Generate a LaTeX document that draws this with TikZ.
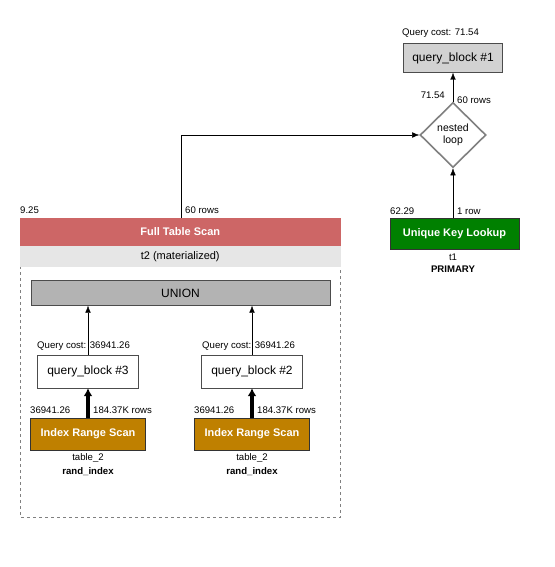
\documentclass[tikz,border=0pt]{standalone}
\usepackage{fontspec}
\setmainfont{Liberation Sans}
\usetikzlibrary{shapes.geometric,arrows.meta}
\definecolor{fullscan}{RGB}{205,102,102}
\definecolor{rangescan}{RGB}{191,128,0}
\definecolor{keylookup}{RGB}{0,128,0}
\definecolor{blockgray}{RGB}{210,210,210}
\definecolor{uniongray}{RGB}{179,179,179}
\definecolor{bandgray}{RGB}{230,230,230}
\tikzset{
    lbl/.style={font=\fontsize{9.6}{11}\selectfont,inner sep=0pt},
    blk/.style={draw=black!70,fill=white,inner sep=0pt,font=\fontsize{12}{13}\selectfont},
    op/.style={draw=black!80,inner sep=0pt,text=white,font=\bfseries\fontsize{11}{12}\selectfont},
    flow/.style={-{Latex[length=7pt,width=5.5pt]},thin},
    heavy/.style={-{Latex[length=8pt,width=9pt]},line width=3.5pt}
}
\begin{document}
\begin{tikzpicture}[x=1pt,y=-1pt]
        \useasboundingbox[fill=white](0,0)rectangle(554,567);
        % top right part
        \node[lbl,anchor=west] at (402,33) {Query cost: 71.54};
        \node[blk,fill=blockgray,minimum width=99pt,minimum height=29pt] (qb1) at (453,58) {query\_block \#1};
        \node[draw=gray,line width=1.6pt,diamond,minimum width=66pt,minimum height=65pt,inner sep=0pt,align=center,font=\fontsize{10.5}{11.5}\selectfont] (loop) at (453,135) {nested\\loop};
        \node[op,fill=keylookup,minimum width=129pt,minimum height=31pt] (ukl) at (454.5,233.5) {Unique Key Lookup};
        \node[lbl] (t1) at (453,257) {t1};
        \node[lbl,font=\bfseries\fontsize{9.6}{11}\selectfont] (ukey) at (453,269) {PRIMARY};
        \draw[flow] (loop.north) -- (qb1.south);
        \draw[flow] (ukl.north-|loop) -- (loop.south);
        \node[lbl,anchor=east] at (445,95) {71.54};
        \node[lbl,anchor=west] at (457,100) {60 rows};
        \node[lbl,anchor=west] at (390,211) {62.29};
        \node[lbl,anchor=west] at (457,211) {1 row};
        % materialized table
        \draw[dashed,gray] (20,218) rectangle (340.5,517);
        \fill[bandgray] (20,246) rectangle (340.5,267);
        \node[op,fill=fullscan,draw=none,minimum width=320.5pt,minimum height=28pt] (fts) at (180.25,232) {Full Table Scan};
        \node[lbl,font=\fontsize{11}{12}\selectfont] (mat) at (180.25,256.5) {t2 (materialized)};
        \node[lbl,anchor=west] at (20,210) {9.25};
        \node[lbl,anchor=west] at (185,210) {60 rows};
        \coordinate (bend) at (181,135);
        \draw[flow] (181,218) -- (bend) -- (loop.west);
        \node[blk,fill=uniongray,minimum width=299pt,minimum height=25pt] (union) at (180.5,293) {UNION};
        % the two union branches
        \foreach \n/\x/\q in {3/88/37,2/252/202}
            {
                \node[lbl,anchor=west] at (\q,346) {Query cost: 36941.26};
                \node[blk,minimum width=101pt,minimum height=33pt] (qb\n) at (\x,371.5) {query\_block \#\n};
                \node[op,fill=rangescan,minimum width=115pt,minimum height=32pt] (irs\n) at (\x,434) {Index Range Scan};
                \node[lbl] (tab\n) at (\x,458) {table\_2};
                \node[lbl,font=\bfseries\fontsize{9.6}{11}\selectfont] (idx\n) at (\x,472) {rand\_index};
                \node[lbl,anchor=west] at (\x-58,410) {36941.26};
                \node[lbl,anchor=west] at (\x+5,410) {184.37K rows};
                \draw[flow] (qb\n.north) -- (union.south-|qb\n);
                \draw[heavy] (irs\n.north) -- (qb\n.south);
            }
    \end{tikzpicture}
\end{document}
